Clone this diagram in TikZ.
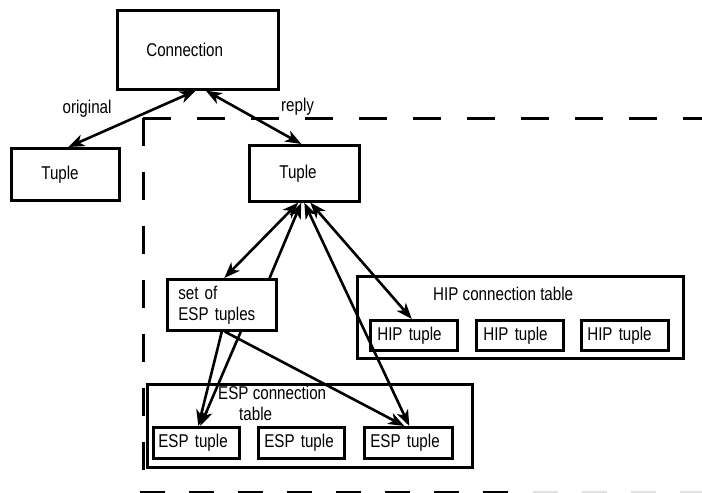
\documentclass[tikz,border=0pt]{standalone}
\usepackage{fontspec}
\setmainfont{Liberation Sans}[FakeStretch=0.82]
\usetikzlibrary{arrows.meta}
\begin{document}
\begin{tikzpicture}[x=1pt,y=-1pt,
  font=\fontsize{18.5}{21}\selectfont,
  >={Stealth[length=16pt,width=12pt,inset=4.5pt]},
  box/.style={draw, line width=2.6pt, anchor=north west, align=left, inner ysep=0pt},
  conn/.style={line width=2.6pt},
  frame/.style={line width=3pt, dash pattern=on 28pt off 26pt},
  lbl/.style={inner sep=0pt}]
\useasboundingbox (0,0) rectangle (702,493);
% dashed frame
\draw[frame] (143,118) -- (143,472);
\draw[frame] (143,118) -- (702,118);
\draw[line width=3pt, dash pattern=on 25pt off 24pt] (140,492) -- (510,492);
\draw[line width=3pt, dash pattern=on 25pt off 24pt, draw=black!12] (533,492) -- (702,492);
% boxes
\node[box, text width=103pt, inner xsep=29pt, minimum height=79pt] (cn) at (116,9) {Connection};
\node[box, text width=48pt, inner xsep=30pt, minimum height=52pt] (lt) at (10,147) {Tuple};
\node[box, text width=50pt, inner xsep=30pt, minimum height=56pt] (rt) at (248,144) {Tuple};
\node[box, text width=87pt, inner xsep=11pt, minimum height=51pt] (set) at (166,278) {set of\\ESP tuples};
\node[box, text width=326pt, inner xsep=0pt, minimum height=82pt,
  label={[lbl, anchor=base west, xshift=77pt, yshift=-25pt]north west:HIP connection table}] (hipt) at (356,275) {};
\node[box, text width=73pt, inner xsep=7pt, minimum height=30pt] (hip1) at (369,319) {HIP tuple};
\node[box, text width=73pt, inner xsep=7pt, minimum height=30pt] (hip2) at (475,319) {HIP tuple};
\node[box, text width=75pt, inner xsep=6pt, minimum height=30pt] (hip3) at (580,319) {HIP tuple};
\node[box, text width=325pt, inner xsep=0pt, minimum height=83pt,
  label={[lbl, align=left, anchor=north west, xshift=72pt, yshift=-3pt]north west:ESP connection\\\hspace*{21pt}table}] (espt) at (146,383) {};
\node[box, text width=76pt, inner xsep=5pt, minimum height=31pt] (esp1) at (152,426) {ESP tuple};
\node[box, text width=74pt, inner xsep=6pt, minimum height=31pt] (esp2) at (257,426) {ESP tuple};
\node[box, text width=76pt, inner xsep=6pt, minimum height=31pt] (esp3) at (363,426) {ESP tuple};
% connectors
\draw[conn, <->] ([xshift=-2pt]cn.south) -- node[lbl, xshift=-45pt, yshift=10pt] {original} ([xshift=3pt]lt.north);
\draw[conn, <->] ([xshift=8pt]cn.south) -- node[lbl, xshift=44pt, yshift=10.5pt] {reply} ([xshift=-3pt]rt.north);
\draw[conn, <->] ([xshift=-6pt]rt.south) -- ([xshift=2.5pt]set.north);
\draw[conn, <-] ([xshift=-3pt]rt.south) -- ([xshift=-8pt]set.north east);
\draw[conn, <->] (rt.south) -- ([xshift=1pt]esp3.north);
\draw[conn, <->] ([xshift=6pt]rt.south) -- ([xshift=-2pt]hip1.north);
\draw[conn, ->] (set.south) -- ([xshift=2pt]esp1.north);
\draw[conn, ->] ([xshift=19pt]set.south) -- ([xshift=4pt]esp1.north);
\draw[conn, ->] ([xshift=3pt]set.south) -- ([xshift=-4pt]esp3.north);
\end{tikzpicture}
\end{document}
